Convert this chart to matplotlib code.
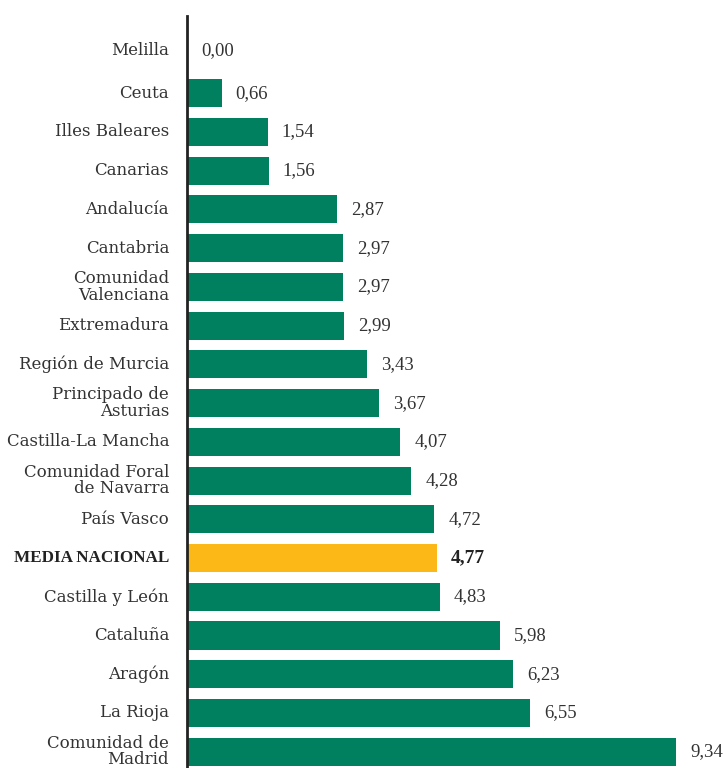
import matplotlib.pyplot as plt

categories = ["Melilla", "Ceuta", "Illes Baleares", "Canarias", "Andalucía", "Cantabria",
              "Comunidad\nValenciana", "Extremadura", "Región de Murcia", "Principado de\nAsturias",
              "Castilla-La Mancha", "Comunidad Foral\nde Navarra", "País Vasco", "MEDIA NACIONAL",
              "Castilla y León", "Cataluña", "Aragón", "La Rioja", "Comunidad de\nMadrid"]
values = [0.00, 0.66, 1.54, 1.56, 2.87, 2.97, 2.97, 2.99, 3.43, 3.67, 4.07, 4.28, 4.72, 4.77,
          4.83, 5.98, 6.23, 6.55, 9.34]
highlight = "MEDIA NACIONAL"

GREEN = "#00805f"
YELLOW = "#fbb817"
TXT = "#333333"
LABEL_FONT = "DejaVu Serif"
NUM_FONT = "Liberation Serif"
PX = 52.4      # pixels per unit
ROW = 38.73    # pixels per row

fig = plt.figure(figsize=(7.23, 7.68), dpi=100)
ax = fig.add_axes([187/723, 0, 1 - 187/723, (768 - 16)/768])

ys = list(range(len(categories)))
colors = [YELLOW if c == highlight else GREEN for c in categories]
ax.barh(ys, values, height=28/ROW, color=colors, zorder=2)

ax.set_xlim(0, 536/PX)
ax.set_ylim(18 + (768 - 751.7)/ROW, -(54.5 - 16)/ROW)

for y, v, c in zip(ys, values, categories):
    bold = c == highlight
    yy = y - (4/ROW if y == 0 else 0)
    ax.text(v + 14/PX, yy, f"{v:.2f}".replace(".", ","), va="center", ha="left",
            fontsize=14 if bold else 13.5, family=NUM_FONT, color="#222222" if bold else TXT,
            fontweight="bold" if bold else "normal")
    if bold:
        ax.text(-18/PX, yy, c, va="center", ha="right", fontsize=12.3, family=NUM_FONT,
                color="#222222", fontweight="bold")
    else:
        ax.text(-18/PX, yy, c, va="center", ha="right", fontsize=12, family=LABEL_FONT,
                color=TXT, linespacing=0.95)

for s in ["top", "right", "bottom"]:
    ax.spines[s].set_visible(False)
ax.spines["left"].set_color("#222222")
ax.spines["left"].set_linewidth(2)
ax.set_xticks([])
ax.set_yticks([])
ax.patch.set_alpha(0)

fig.savefig("out.png", dpi=100)
